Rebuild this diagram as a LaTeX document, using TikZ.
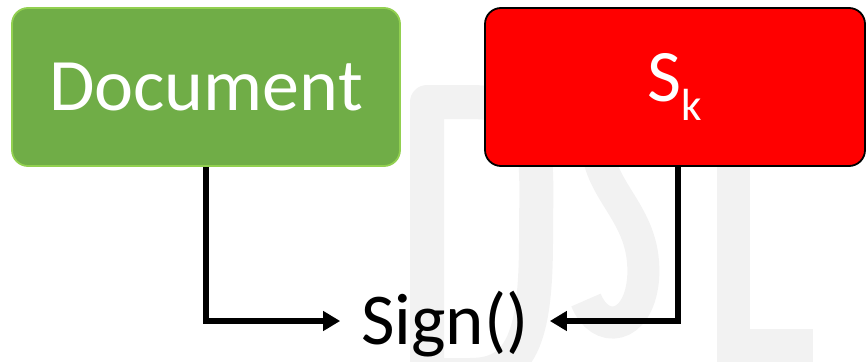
\documentclass[tikz,border=0pt]{standalone}
\usepackage{fontspec}
\setmainfont{Carlito}
\usetikzlibrary{arrows.meta}
\definecolor{docgreen}{HTML}{70AD47}
\definecolor{docedge}{HTML}{92D050}
\definecolor{wm}{HTML}{F2F2F2}
\tikzset{
  box/.style={rectangle, rounded corners=16pt, minimum width=#1, minimum height=158pt, line width=1.8pt, inner sep=0pt, text=white, font=\fontsize{74}{80}\selectfont},
  conn/.style={line width=5.5pt, -{Triangle[length=17pt,width=19pt]}},
  wmstroke/.style={draw=wm, line width=34pt},
}
\begin{document}
\begin{tikzpicture}[x=1pt,y=-1pt]
\useasboundingbox (0,0) rectangle (866,361);
% watermark DSL
\draw[wmstroke, line join=round] (427,102) -- (470,102) .. controls (545,102) and (536,150) .. (536,240) .. controls (536,340) and (520,375) .. (470,375) -- (427,375) -- cycle;
\draw[wmstroke, line width=32pt] (665,125) .. controls (645,95) and (595,95) .. (597,145) .. controls (600,195) and (648,215) .. (643,280) .. controls (638,330) and (600,335) .. (586,300);
\draw[wmstroke, line width=33pt] (733,110) -- (733,345) -- (813,345);
% boxes
\node[box=388pt, fill=docgreen, draw=docedge] (doc) at (206,87) {Document};
\node[box=380pt, fill=red, draw=black] (sk) at (675,87) {S\raisebox{-19pt}{\fontsize{45}{45}\selectfont k}};
\node[anchor=base, inner ysep=0pt, inner xsep=21pt, font=\fontsize{73}{80}\selectfont] (sign) at (445,344) {Sign()};
\coordinate (mid) at (445,321);
\draw[conn] (doc.south) |- (sign.west |- mid);
\draw[conn] ([xshift=3pt]sk.south) |- (sign.east |- mid);
\end{tikzpicture}
\end{document}
